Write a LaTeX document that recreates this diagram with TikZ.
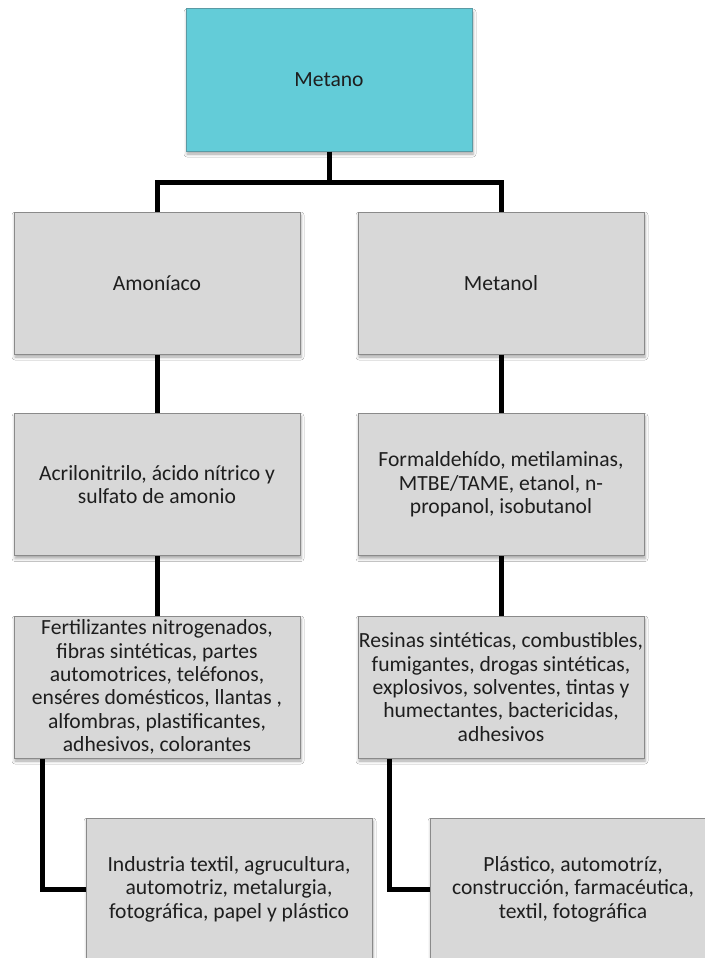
\documentclass[tikz,border=0pt]{standalone}
\usepackage{fontspec}
\setmainfont{Carlito}
\usetikzlibrary{shadows.blur}

\definecolor{tealfill}{HTML}{63CCD8}
\definecolor{tealedge}{HTML}{5A9AA4}
\definecolor{greyfill}{HTML}{D8D8D8}
\definecolor{greyedge}{HTML}{8A8A8A}
\definecolor{inktext}{HTML}{1E1E1E}

\tikzset{
  box/.style={rectangle, draw=greyedge, fill=greyfill, line width=1pt,
    minimum width=286pt, minimum height=142pt, inner sep=0pt,
    align=center, text=inktext,
    font=\fontsize{21.6pt}{23.4pt}\selectfont,
    blur shadow={shadow xshift=1pt, shadow yshift=-3pt,
      shadow blur radius=3pt, shadow opacity=35}},
  topbox/.style={box, draw=tealedge, fill=tealfill},
  link/.style={line width=5pt, draw=black, line join=miter}
}

\begin{document}
\begin{tikzpicture}[x=1pt, y=-1pt]
  \useasboundingbox (0,0) rectangle (704,958);
  \fill[white] (0,0) rectangle (704,958);

  % tree of boxes
  \node[topbox] (metano) at (329,80)    {Metano};
  \node[box]    (amon)   at (157,283)   {Amoníaco};
  \node[box]    (metol)  at (501,283)   {Metanol};
  \node[box]    (acril)  at (157,484.5) {Acrilonitrilo, ácido nítrico y\\sulfato de amonio};
  \node[box]    (formal) at (501,484.5) {Formaldehído, metilaminas,\\MTBE/TAME, etanol, n-\\propanol, isobutanol};
  \node[box]    (fert)   at (157,687)   {Fertilizantes nitrogenados,\\fibras sintéticas, partes\\automotrices, teléfonos,\\enséres domésticos, llantas ,\\alfombras, plastificantes,\\adhesivos, colorantes};
  \node[box]    (resin)  at (501,687)   {Resinas sintéticas, combustibles,\\fumigantes, drogas sintéticas,\\explosivos, solventes, tintas y\\humectantes, bactericidas,\\adhesivos};
  \node[box]    (indus)  at (229,889)   {Industria textil, agrucultura,\\automotriz, metalurgia,\\fotográfica, papel y plástico};
  \node[box]    (plast)  at (573,889)   {Plástico, automotríz,\\construcción, farmacéutica,\\textil, fotográfica};

  % connectors
  \coordinate (split) at (metano.south |- 0,182);
  \draw[link] (metano.south) -- (split);
  \draw[link] (amon.north) |- (split) -| (metol.north);
  \draw[link] (amon.south) -- (acril.north);
  \draw[link] (metol.south) -- (formal.north);
  \draw[link] (acril.south) -- (fert.north);
  \draw[link] (formal.south) -- (resin.north);
  \draw[link] ([xshift=29pt]fert.south west) |- (indus.west);
  \draw[link] ([xshift=32pt]resin.south west) |- (plast.west);
\end{tikzpicture}
\end{document}
